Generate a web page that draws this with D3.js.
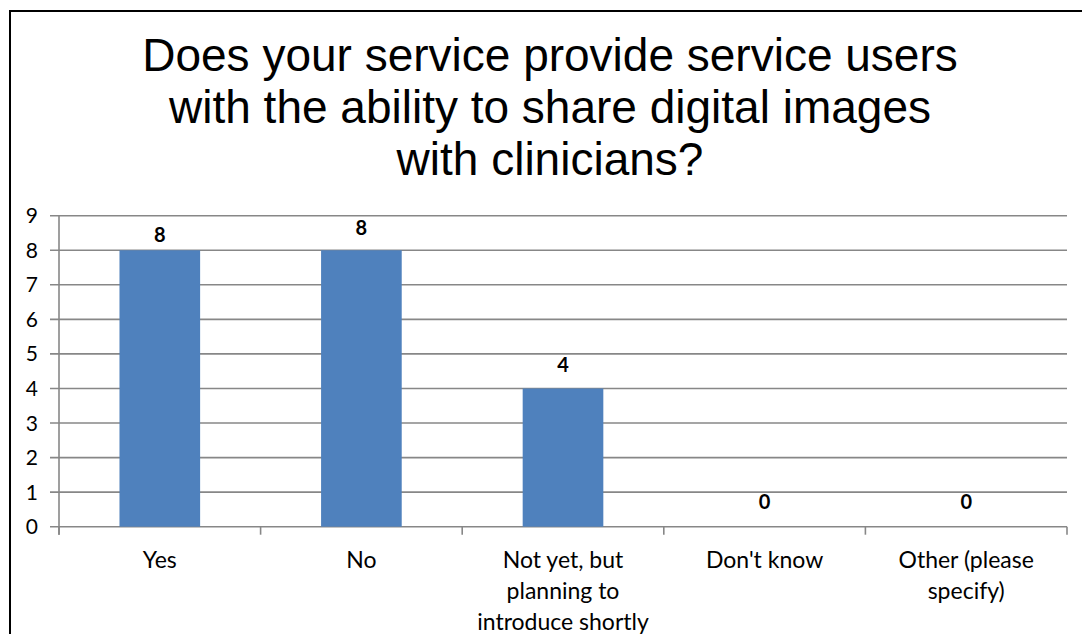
<!DOCTYPE html>
<html>
<head>
<meta charset="utf-8">
<script src="https://cdn.jsdelivr.net/npm/d3@7/dist/d3.min.js"></script>
<style>
  html, body { margin: 0; padding: 0; background: #fff; }
  svg { display: block; }
</style>
</head>
<body>
<svg id="chart" width="1082" height="634"></svg>
<script>
// Survey responses
const categories = ["Yes", "No", "Not yet, but planning to introduce shortly", "Don't know", "Other (please specify)"];
const categoryLines = [["Yes"], ["No"], ["Not yet, but", "planning to", "introduce shortly"], ["Don't know"], ["Other (please", "specify)"]];
const counts = [8, 8, 4, 0, 0];
const yTicks = [0, 1, 2, 3, 4, 5, 6, 7, 8, 9];
const titleLines = ["Does your service provide service users", "with the ability to share digital images", "with clinicians?"];

const svg = d3.select("#chart");
const W = 1082, H = 634;

// Gap (px) between each bar top and its value label baseline
const labelGap = [8, 15, 16, 18, 18];

// Outer frame
svg.append("rect")
  .attr("x", 10).attr("y", 11)
  .attr("width", W + 20).attr("height", H + 20)
  .attr("fill", "#fff").attr("stroke", "#000").attr("stroke-width", 2);

// Title
const title = svg.append("text")
  .attr("text-anchor", "middle")
  .attr("font-family", "Liberation Sans, Arial, sans-serif")
  .attr("font-size", 46)
  .attr("fill", "#000");
titleLines.forEach((t, i) => {
  title.append("tspan").attr("x", 550).attr("y", 71 + i * 52).text(t);
});

// Plot area
const plot = { left: 59, right: 1067, top: 215.7, bottom: 526.7 };

const x = d3.scaleBand()
  .domain(categories)
  .range([plot.left, plot.right])
  .paddingInner(0.6)
  .paddingOuter(0.3);

const y = d3.scaleLinear()
  .domain([0, 9])
  .range([plot.bottom, plot.top]);

const gridColor = "#878787";

// Horizontal gridlines (extend left as tick marks)
svg.append("g")
  .selectAll("line")
  .data(yTicks)
  .join("line")
  .attr("x1", plot.left - 9).attr("x2", plot.right)
  .attr("y1", d => y(d)).attr("y2", d => y(d))
  .attr("stroke", gridColor).attr("stroke-width", 1.6);

// Y axis line
svg.append("line")
  .attr("x1", plot.left).attr("x2", plot.left)
  .attr("y1", plot.top).attr("y2", plot.bottom + 8)
  .attr("stroke", gridColor).attr("stroke-width", 1.6);

// Category boundary ticks on the x axis
const boundaries = d3.range(categories.length + 1).map(i => plot.left + i * (plot.right - plot.left) / categories.length);
svg.append("g")
  .selectAll("line")
  .data(boundaries)
  .join("line")
  .attr("x1", d => d).attr("x2", d => d)
  .attr("y1", plot.bottom).attr("y2", plot.bottom + 8)
  .attr("stroke", gridColor).attr("stroke-width", 1.6);

// Y tick labels
svg.append("g")
  .selectAll("text")
  .data(yTicks)
  .join("text")
  .attr("x", 38).attr("y", d => y(d))
  .attr("dy", "0.36em")
  .attr("text-anchor", "end")
  .attr("font-family", "Lato, Open Sans, sans-serif")
  .attr("font-size", 21)
  .attr("fill", "#000")
  .text(d => d);

// Bars
svg.append("g")
  .selectAll("rect")
  .data(counts)
  .join("rect")
  .attr("x", (d, i) => x(categories[i]))
  .attr("width", x.bandwidth())
  .attr("y", d => y(d))
  .attr("height", d => y(0) - y(d))
  .attr("fill", "#4f81bd");

// Value labels
svg.append("g")
  .selectAll("text")
  .data(counts)
  .join("text")
  .attr("x", (d, i) => x(categories[i]) + x.bandwidth() / 2)
  .attr("y", (d, i) => y(d) - labelGap[i])
  .attr("text-anchor", "middle")
  .attr("font-family", "Lato, Open Sans, sans-serif")
  .attr("font-weight", "bold")
  .attr("font-size", 20)
  .attr("fill", "#000")
  .text(d => d);

// Category labels
const catG = svg.append("g")
  .attr("font-family", "Lato, Open Sans, sans-serif")
  .attr("font-size", 23)
  .attr("text-anchor", "middle")
  .attr("fill", "#000");
categories.forEach((c, i) => {
  const t = catG.append("text");
  categoryLines[i].forEach((line, j) => {
    t.append("tspan")
      .attr("x", x(c) + x.bandwidth() / 2)
      .attr("y", 568 + j * 31)
      .text(line);
  });
});
</script>
</body>
</html>
